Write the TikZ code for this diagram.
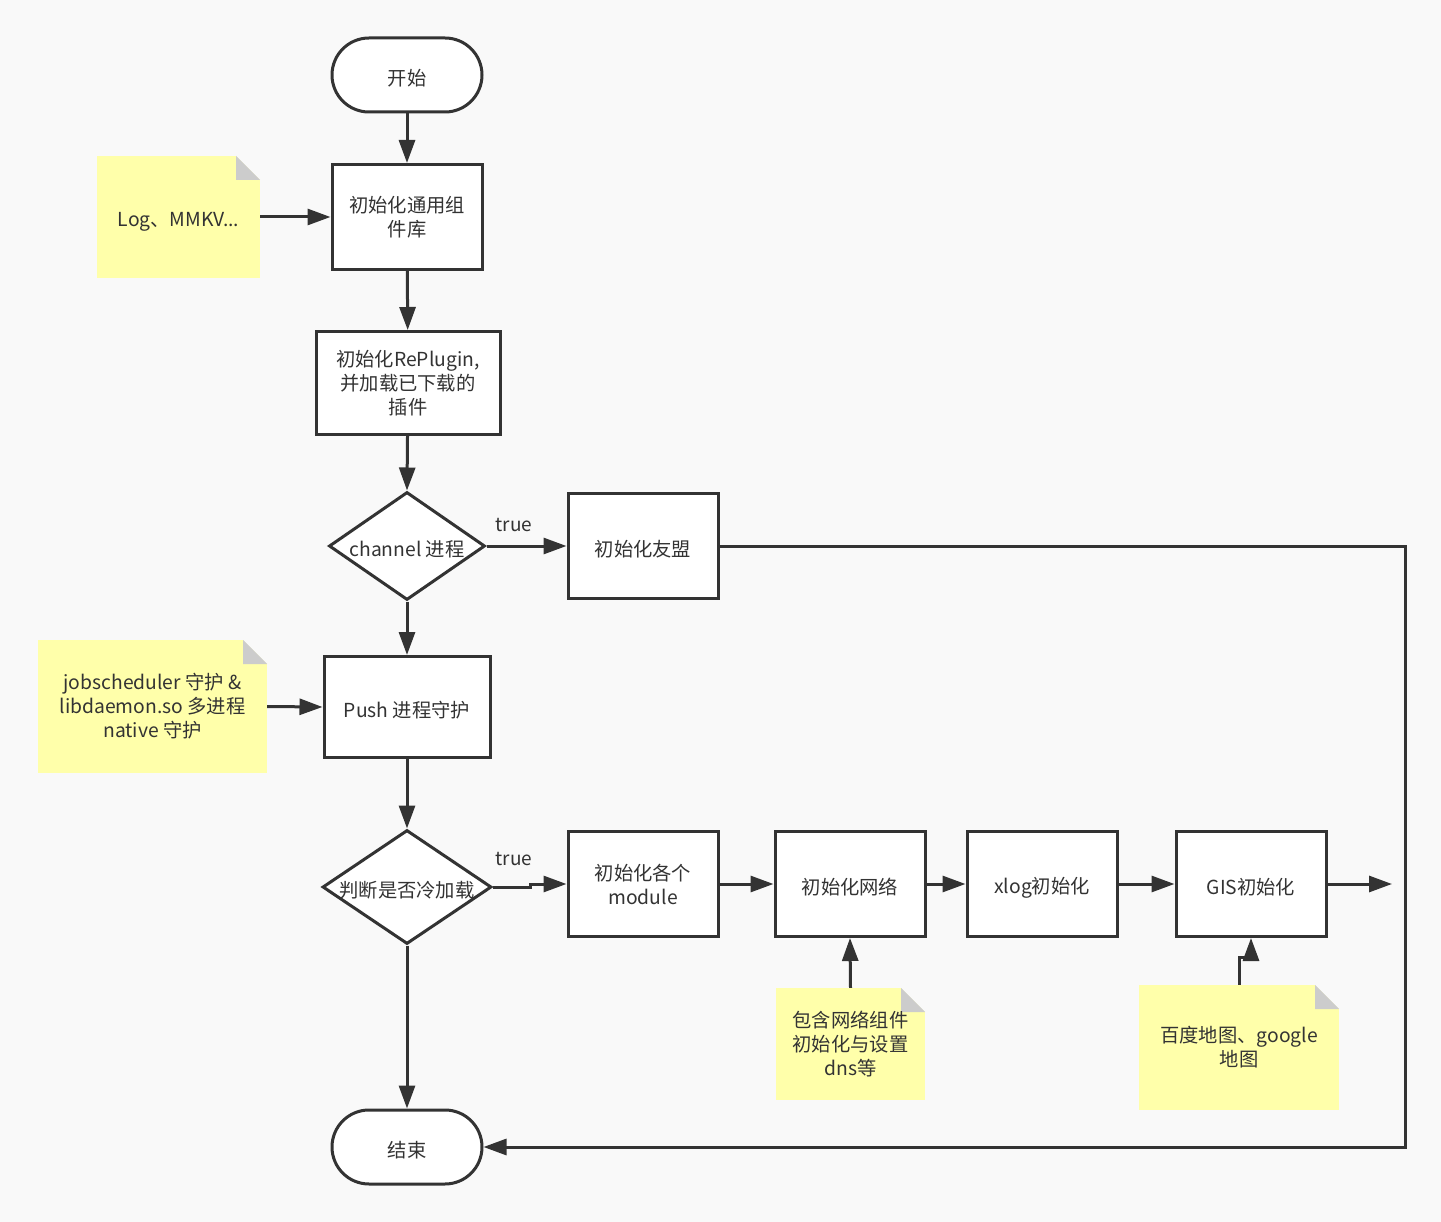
\documentclass[tikz,border=0pt]{standalone}
\usepackage{fontspec}
\setmainfont{Noto Sans CJK SC}
\usetikzlibrary{arrows.meta,shapes.geometric,shapes.misc}
\definecolor{bg}{HTML}{F9F9F9}
\definecolor{ink}{HTML}{333333}
\definecolor{notey}{HTML}{FFFFAA}
\definecolor{foldc}{HTML}{CCCCCC}
\begin{document}
\begin{tikzpicture}[x=1pt,y=-1pt,
 every node/.style={font=\fontsize{19.3}{24}\selectfont, text=ink},
 lowered/.style={execute at begin node={\raisebox{7pt}{\vphantom{初}}}},
 box/.style={lowered, draw=ink, line width=3pt, fill=white, minimum width=150pt, minimum height=105pt, align=center, inner sep=0pt},
 term/.style={lowered, rounded rectangle, draw=ink, line width=3pt, fill=white, minimum width=150pt, minimum height=74pt, inner sep=0pt},
 dia/.style={diamond, draw=ink, line width=3pt, fill=white, inner sep=0pt},
 diatext/.style={lowered, inner sep=0pt},
 note/.style={lowered, fill=notey, align=center, inner sep=0pt,
   path picture={
     \fill[bg] ([xshift=-24pt]path picture bounding box.north east) -- (path picture bounding box.north east) -- ([yshift=-24pt]path picture bounding box.north east) -- cycle;
     \fill[foldc] ([xshift=-24pt]path picture bounding box.north east) -- ([xshift=-24pt,yshift=-24pt]path picture bounding box.north east) -- ([yshift=-24pt]path picture bounding box.north east) -- cycle;
   }},
 conn/.style={draw=ink, line width=3pt, -{Triangle[length=23pt,width=16pt]}},
 lbl/.style={font=\fontsize{19}{22}\selectfont, inner sep=0pt}
]
\fill[bg] (0,0) rectangle (1441,1222);
\useasboundingbox (0,0) rectangle (1441,1222);

% nodes
\node[term] (start) at (407,75) {开始};
\node[box] (b1) at (407,217) {初始化通用组\\件库};
\node[note, minimum width=163pt, minimum height=122pt] (n1) at (178.5,217) {Log、MMKV...};
\node[box, minimum width=184pt, minimum height=103pt] (b2) at (408,383) {初始化RePlugin,\\并加载已下载的\\插件};
\node[dia, minimum width=156pt, minimum height=108pt] (d1) at (407,546) {};
\node[diatext] (d1t) at (d1) {channel 进程};
\node[box] (b3) at (643,546) {初始化友盟};
\node[box, minimum width=166pt, minimum height=101pt] (b4) at (407,707) {Push 进程守护};
\node[note, minimum width=229pt, minimum height=133pt] (n2) at (152.5,706.5) {jobscheduler 守护 \&\\libdaemon.so 多进程\\native 守护};
\node[dia, minimum width=169pt, minimum height=114pt] (d2) at (407,887) {};
\node[diatext] (d2t) at (d2) {判断是否冷加载};
\node[box] (b5) at (643,884) {初始化各个\\module};
\node[box] (b6) at (850,884) {初始化网络};
\node[box] (b7) at (1042,884) {xlog初始化};
\node[box] (b8) at (1251,884) {GIS初始化};
\coordinate (out) at (1392,884);
\node[note, minimum width=149pt, minimum height=112pt] (n3) at (850.5,1044) {包含网络组件\\初始化与设置\\dns等};
\node[note, minimum width=200pt, minimum height=125pt] (n4) at (1239,1047.5) {百度地图、google\\地图};
\node[term] (end) at (407,1147) {结束};
\node[lbl] (t1) at (514,525) {true};
\node[lbl] (t2) at (514,859) {true};

% connectors
\draw[conn] (start) -- (b1);
\draw[conn] (n1.east) -- (b1.west);
\draw[conn] (b1) -- (b2);
\draw[conn] (b2) -- (d1.north);
\draw[conn] (d1.east) -- (b3.west);
\draw[conn] (d1.south) -- (b4.north);
\draw[conn] (n2.east) -- (b4.west);
\draw[conn] (b4) -- (d2.north);
\draw[conn] (d2.east) -- ++(37,0) |- (b5.west);
\draw[conn] (b5) -- (b6);
\draw[conn] (b6) -- (b7);
\draw[conn] (b7) -- (b8);
\draw[conn] (b8.east) -- (out);
\draw[conn] (n3.north) -- (b6.south);
\draw[conn] (n4.north) -- ++(0,-27) -| (b8.south);
\draw[conn] (b3.east) -- ++(686,0) |- (end.east);
\draw[conn] (d2.south) -- (end.north);
\end{tikzpicture}
\end{document}
